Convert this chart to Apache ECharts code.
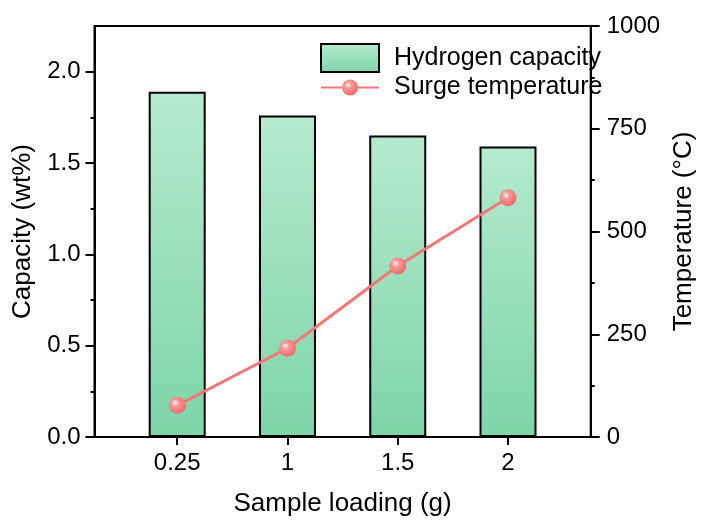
<!DOCTYPE html>
<html>
<head>
<meta charset="utf-8">
<script src="https://cdn.jsdelivr.net/npm/echarts@6/dist/echarts.min.js"></script>
<style>
html,body{margin:0;padding:0;background:#fff;}
#chart{width:705px;height:522px;}
</style>
</head>
<body>
<div id="chart"></div>
<script>
var categories = ['0.25', '1', '1.5', '2'];
var capacity = [1.89, 1.76, 1.65, 1.59];
var temperature = [77, 216, 416, 582];
var leftTicks = [0, 0.5, 1.0, 1.5, 2.0];
var leftMinor = [0.25, 0.75, 1.25, 1.75];
var rightTicks = [0, 250, 500, 750, 1000];
var rightMinor = [125, 375, 625, 875];

var positions = categories.map(function (c, i) { return i + 1; });
var barData = capacity.map(function (v, i) { return [positions[i], v]; });
var lineData = temperature.map(function (v, i) { return [positions[i], v]; });

var FONT = '"Liberation Sans", Arial, sans-serif';
var chart = echarts.init(document.getElementById('chart'));
var barFill = new echarts.graphic.LinearGradient(0, 0, 0, 1, [
  {offset: 0, color: '#b6eacf'},
  {offset: 1, color: '#7dd5a8'}
]);
var dotFill = new echarts.graphic.RadialGradient(0.38, 0.35, 0.65, [
  {offset: 0, color: '#ffffff'},
  {offset: 0.3, color: '#f99a9a'},
  {offset: 1, color: '#ee6a6a'}
]);
var axisLineStyle = {color: '#000', width: 2};
var legendText = {fontFamily: FONT, fontSize: 25, color: '#000', padding: [0, 0, 0, 10]};

chart.setOption({
  animation: false,
  grid: {left: 94.5, right: 94, top: 26, bottom: 80, show: true, borderColor: '#000', borderWidth: 2, backgroundColor: 'transparent'},
  legend: [
    {
      left: 315, top: 38, orient: 'vertical', itemWidth: 58, itemHeight: 28,
      textStyle: legendText,
      data: [{name: 'Hydrogen capacity', icon: 'rect'}]
    },
    {
      left: 315, top: 70, orient: 'vertical', itemWidth: 58, itemHeight: 20,
      textStyle: legendText,
      data: ['Surge temperature']
    }
  ],
  xAxis: {
    type: 'value', min: 0.25, max: 4.75,
    name: 'Sample loading (g)', nameLocation: 'middle', nameGap: 54,
    nameTextStyle: {fontFamily: FONT, fontSize: 26, color: '#000'},
    axisLine: {show: true, lineStyle: axisLineStyle},
    axisTick: {show: true, length: 8, lineStyle: axisLineStyle, customValues: positions},
    axisLabel: {fontFamily: FONT, fontSize: 24, color: '#000', margin: 14, customValues: positions,
      formatter: function (v) { return categories[Math.round(v) - 1]; }},
    splitLine: {show: false}
  },
  yAxis: [
    {
      type: 'value', min: 0, max: 2.25, position: 'left',
      name: 'Capacity (wt%)', nameLocation: 'middle', nameGap: 52, nameRotate: 90,
      nameTextStyle: {fontFamily: FONT, fontSize: 26, color: '#000'},
      axisLine: {show: true, lineStyle: axisLineStyle},
      axisTick: {show: true, length: 9, lineStyle: axisLineStyle, customValues: leftTicks},
      axisLabel: {fontFamily: FONT, fontSize: 24, color: '#000', margin: 14, customValues: leftTicks,
        formatter: function (v) { return v.toFixed(1); }},
      splitLine: {show: false}
    },
    {
      type: 'value', min: 0, max: 1000, position: 'right',
      name: 'Temperature (°C)', nameLocation: 'middle', nameGap: 62, nameRotate: 90,
      nameTextStyle: {fontFamily: FONT, fontSize: 26, color: '#000'},
      axisLine: {show: true, lineStyle: axisLineStyle},
      axisTick: {show: true, length: 9, lineStyle: axisLineStyle, customValues: rightTicks},
      axisLabel: {fontFamily: FONT, fontSize: 24, color: '#000', margin: 16, customValues: rightTicks,
        formatter: function (v) { return String(v); }},
      splitLine: {show: false}
    },
    {
      type: 'value', min: 0, max: 2.25, position: 'left',
      axisLine: {show: false},
      axisTick: {show: true, length: 4, lineStyle: axisLineStyle, customValues: leftMinor},
      axisLabel: {show: false},
      splitLine: {show: false}
    },
    {
      type: 'value', min: 0, max: 1000, position: 'right',
      axisLine: {show: false},
      axisTick: {show: true, length: 4, lineStyle: axisLineStyle, customValues: rightMinor},
      axisLabel: {show: false},
      splitLine: {show: false}
    }
  ],
  series: [
    {
      name: 'Hydrogen capacity', type: 'bar', yAxisIndex: 0, barWidth: 57,
      itemStyle: {color: barFill, borderColor: '#000', borderWidth: 2},
      data: barData, z: 2
    },
    {
      name: 'Surge temperature', type: 'line', yAxisIndex: 1,
      symbol: 'circle', symbolSize: 17,
      lineStyle: {color: '#f27777', width: 3},
      itemStyle: {color: dotFill, borderWidth: 0},
      data: lineData, z: 3
    }
  ]
});
</script>
</body>
</html>
